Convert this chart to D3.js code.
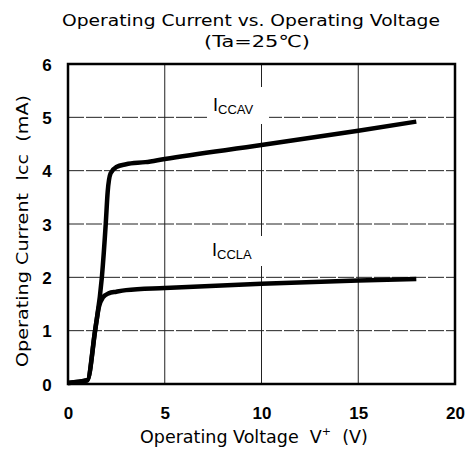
<!DOCTYPE html>
<html><head><meta charset="utf-8">
<script src="https://cdn.jsdelivr.net/npm/d3@7"></script>
<style>body{margin:0;background:#fff}svg{display:block}</style>
</head><body>
<script>
const xTicks = [0, 5, 10, 15, 20];
const yTicks = [0, 1, 2, 3, 4, 5, 6];
const iccavV = [0, 1.0, 1.4, 1.75, 1.95, 2.05, 2.2, 2.5, 3, 4, 5, 10, 15, 18];
const iccavI = [0.02, 0.07, 1.0, 2.0, 3.0, 3.6, 3.95, 4.07, 4.12, 4.16, 4.22, 4.48, 4.75, 4.92];
const icclaV = [0, 1.0, 1.4, 1.6, 1.8, 2.1, 2.5, 3, 5, 10, 15, 18];
const icclaI = [0.02, 0.07, 1.0, 1.45, 1.62, 1.7, 1.73, 1.76, 1.8, 1.88, 1.94, 1.97];

const W = 472, H = 456;
const FONT = "'Liberation Sans', Arial, sans-serif";
const TFONT = "'DejaVu Sans', sans-serif";
const svg = d3.select("body").append("svg").attr("width", W).attr("height", H)
  .style("font-family", FONT);

const x = d3.scaleLinear().domain([0, 20]).range([68, 455]);
const y = d3.scaleLinear().domain([0, 6]).range([384, 64]);

// gridlines
const g = svg.append("g");
g.selectAll(".vg").data(xTicks.filter(d => d > 0 && d < 20)).join("line")
  .attr("x1", d => x(d)).attr("x2", d => x(d)).attr("y1", y(6)).attr("y2", y(0))
  .attr("stroke", "#222").attr("stroke-width", 1);
g.selectAll(".hg").data(yTicks.filter(d => d > 0 && d < 6)).join("line")
  .attr("x1", x(0)).attr("x2", x(20)).attr("y1", d => y(d)).attr("y2", d => y(d))
  .attr("stroke", "#222").attr("stroke-width", 1).attr("stroke-dasharray", "16,2");

// label backgrounds (gridline gaps)
svg.append("rect").attr("x", 207).attr("y", 87).attr("width", 62).attr("height", 37).attr("fill", "#fff");
svg.append("rect").attr("x", 207).attr("y", 236).attr("width", 60).attr("height", 30).attr("fill", "#fff");

// curves
const line = d3.line().x(d => x(d[0])).y(d => y(d[1])).curve(d3.curveMonotoneX);
const av = iccavV.map((v, i) => [v, iccavI[i]]);
const la = icclaV.map((v, i) => [v, icclaI[i]]);
[av, la].forEach(data => {
  svg.append("path").attr("d", line(data)).attr("fill", "none")
    .attr("stroke", "#000").attr("stroke-width", 4.5).attr("stroke-linejoin", "round");
});

// frame
svg.append("rect").attr("x", x(0)).attr("y", y(6)).attr("width", x(20) - x(0)).attr("height", y(0) - y(6))
  .attr("fill", "none").attr("stroke", "#000").attr("stroke-width", 2.5);

// axes tick labels via d3 axes
const xAxis = d3.axisBottom(x).tickValues(xTicks).tickFormat(d3.format("d")).tickSize(0);
const xa = svg.append("g").attr("transform", `translate(0,${y(0)})`).call(xAxis);
xa.select(".domain").remove();
xa.selectAll("text").attr("font-size", 17).attr("fill", "#000")
  .attr("font-family", FONT).attr("font-weight", "bold").attr("dy", null).attr("y", 35);

const yAxis = d3.axisLeft(y).tickValues(yTicks).tickFormat(d3.format("d")).tickSize(0);
const ya = svg.append("g").attr("transform", `translate(${x(0)},0)`).call(yAxis);
ya.select(".domain").remove();
ya.selectAll("text").attr("font-size", 17).attr("fill", "#000")
  .attr("font-family", FONT).attr("font-weight", "bold").attr("text-anchor", "middle").attr("x", -21).attr("dy", "0.36em");

// title
svg.append("text").attr("x", 251).attr("y", 26).attr("text-anchor", "middle").attr("font-family", TFONT)
  .attr("font-size", 16.5).attr("textLength", 378).attr("lengthAdjust", "spacingAndGlyphs")
  .text("Operating Current vs. Operating Voltage");
svg.append("text").attr("x", 257).attr("y", 47).attr("text-anchor", "middle").attr("font-family", TFONT)
  .attr("font-size", 16.5).attr("textLength", 106).attr("lengthAdjust", "spacingAndGlyphs").text("(Ta=25℃)");

// axis titles
const xt = svg.append("text").attr("x", 140).attr("y", 443).attr("font-size", 17.5).attr("font-family", TFONT);
xt.append("tspan").text("Operating Voltage\u00a0\u00a0V");
xt.append("tspan").attr("font-size", 11).attr("dy", -8).text("+");
xt.append("tspan").attr("dy", 8).text("\u00a0\u00a0(V)");

svg.append("text").attr("transform", "translate(28,231) rotate(-90)").attr("text-anchor", "middle").attr("font-family", TFONT)
  .attr("font-size", 16.5).attr("textLength", 272).attr("lengthAdjust", "spacingAndGlyphs")
  .text("Operating Current\u00a0\u00a0Icc\u00a0\u00a0(mA)");

// series labels
function lab(xp, yp, sub) {
  const t = svg.append("text").attr("x", xp).attr("y", yp).attr("font-size", 18);
  t.append("tspan").text("I");
  t.append("tspan").attr("font-size", 13).attr("dy", 3).text(sub);
}
lab(213, 111, "CCAV");
lab(212, 256, "CCLA");
</script>
</body></html>
